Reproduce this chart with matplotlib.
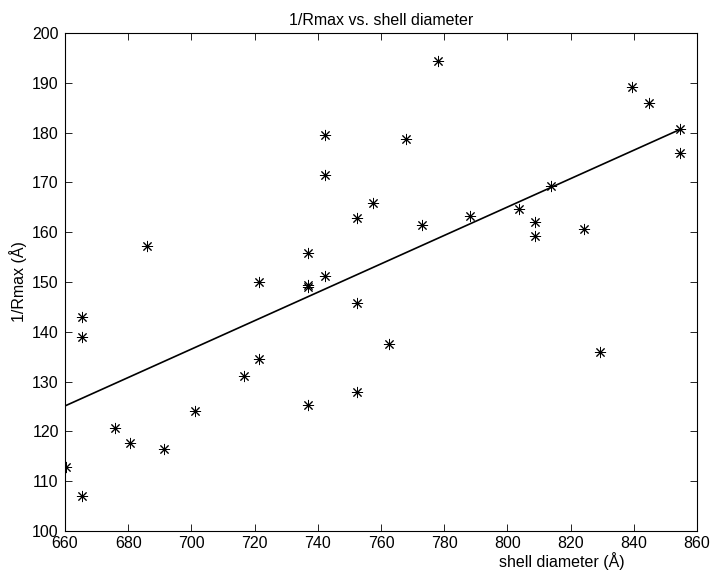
import matplotlib
matplotlib.use("Agg")
import matplotlib.pyplot as plt
import numpy as np

plt.rcParams['font.family'] = ['Liberation Sans', 'DejaVu Sans']

# data
diameter = [660.3, 665.5, 665.5, 665.5, 675.7, 680.7, 686.0, 691.2, 701.1, 716.5,
            721.5, 721.5, 737.0, 737.0, 737.0, 737.0, 742.3, 742.3, 742.3, 752.4,
            752.4, 752.4, 757.5, 762.6, 767.8, 772.9, 778.0, 788.2, 803.7, 808.7,
            808.7, 813.7, 824.1, 829.2, 839.4, 844.7, 854.5, 854.5]
inv_rmax = [112.9, 107.0, 139.0, 143.0, 120.6, 117.6, 157.3, 116.5, 124.0, 131.2,
            134.5, 149.9, 125.4, 149.0, 149.3, 155.9, 151.3, 171.5, 179.6, 128.0,
            145.7, 162.8, 165.8, 137.6, 178.8, 161.4, 194.4, 163.3, 164.6, 162.0,
            159.3, 169.3, 160.6, 136.0, 189.2, 185.9, 180.7, 176.0]
fit_x = [660.3, 854.5]
fit_y = [125.2, 180.6]

xticks = list(range(660, 861, 20))
yticks = list(range(100, 201, 10))

fig = plt.figure(figsize=(7.12, 5.71), dpi=100)
W, H = 712, 571
left, right, top, bottom = 65, 697, 33, 531
ax = fig.add_axes([left / W, (H - bottom) / H, (right - left) / W, (bottom - top) / H])

ax.plot(diameter, inv_rmax, linestyle='none', marker=(8, 2, 0), markersize=8,
        markeredgewidth=0.7, color='black')
ax.plot(fit_x, fit_y, color='black', linewidth=1.2)

ax.set_xlim(660, 860)
ax.set_ylim(100, 200)
ax.set_xticks(xticks)
ax.set_yticks(yticks)
ax.tick_params(direction='in', length=5, width=0.6, top=True, right=True,
               labelsize=11.5, colors='black')
ax.tick_params(axis='x', pad=3.5)
ax.tick_params(axis='y', pad=4.5)
for s in ax.spines.values():
    s.set_linewidth(0.8)

ax.set_title('1/Rmax vs. shell diameter', fontsize=11.5, pad=6)
ax.set_xlabel('shell diameter (Å)', fontsize=11.5)
ax.xaxis.set_label_coords((562 - left) / (right - left), -(561 - bottom) / (bottom - top), transform=ax.transAxes)
ax.xaxis.label.set_va('center')
ax.set_ylabel('1/Rmax (Å)', fontsize=11.5)
ax.yaxis.set_label_coords(-(left - 18) / (right - left), 0.5, transform=ax.transAxes)
ax.yaxis.label.set_va('center')

fig.savefig('out.png', dpi=100)
